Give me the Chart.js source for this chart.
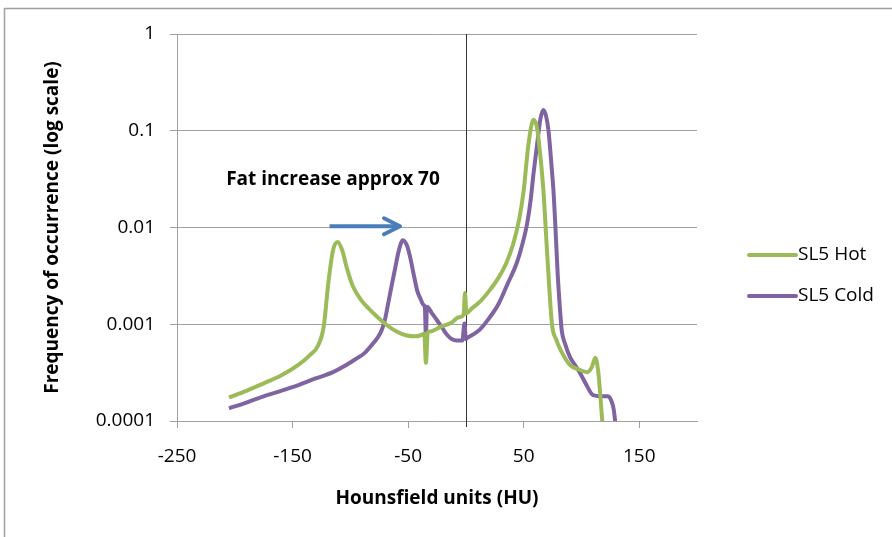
<!DOCTYPE html>
<html>
<head>
<meta charset="utf-8">
<script src="https://cdn.jsdelivr.net/npm/chart.js@4.4.0/dist/chart.umd.min.js"></script>
<style>
  body { margin: 0; background: #fff; }
  canvas { display: block; }
</style>
</head>
<body>
<canvas id="myChart" width="892" height="537"></canvas>
<script>
// SL5 Hot
var hotX = [-205, -190, -175, -160, -145, -135, -128, -123, -119, -115, -111, -107, -103, -98, -91, -84, -77, -68, -60, -52, -44, -39, -36, -34.6, -33, -31, -22, -13, -6, -2, -0.8, 0.5, 5, 12, 20, 28, 35, 41, 46, 50, 54, 58.5, 61, 63, 67, 70.5, 74.5, 78, 82, 90, 98, 105, 109, 112, 114.7, 117.5, 119.5];
var hotY = [0.000175, 0.000205, 0.000245, 0.000295, 0.00038, 0.00048, 0.0006, 0.00095, 0.0027, 0.0058, 0.0071, 0.0058, 0.0038, 0.0025, 0.0018, 0.00145, 0.0012, 0.00097, 0.00084, 0.00077, 0.00075, 0.00077, 0.0008, 0.0004, 0.00082, 0.00084, 0.00094, 0.00103, 0.00118, 0.00125, 0.0021, 0.0013, 0.00145, 0.0017, 0.0022, 0.003, 0.0043, 0.0068, 0.012, 0.024, 0.07, 0.13, 0.115, 0.08, 0.025, 0.005, 0.001, 0.0007, 0.00054, 0.00038, 0.00034, 0.00032, 0.00036, 0.00045, 0.00031, 0.00012, 0.00006];

// SL5 Cold
var coldX = [-205, -190, -175, -160, -145, -130, -115, -105, -95, -88, -82, -77, -73, -70, -67, -64, -61, -58, -54.5, -51, -48, -45, -42, -39, -37, -35.5, -34.6, -33.7, -29, -25, -20, -16, -12, -8, -3, -1.2, 0, 1, 6, 12, 20, 28, 36, 44, 49, 53, 56, 58.5, 61.5, 64.3, 67, 69.5, 71.5, 74, 76, 78, 79.5, 81.5, 83, 86, 90, 95, 99, 104, 109, 113, 118, 123, 126, 128, 131];
var coldY = [0.000135, 0.000155, 0.00018, 0.000205, 0.000235, 0.000275, 0.00032, 0.00037, 0.00044, 0.0005, 0.0006, 0.00071, 0.00086, 0.00112, 0.0017, 0.0026, 0.0039, 0.0058, 0.0074, 0.0065, 0.0048, 0.0032, 0.0022, 0.0018, 0.0016, 0.0015, 0.00074, 0.00152, 0.00128, 0.0011, 0.0009, 0.00077, 0.0007, 0.00068, 0.00068, 0.00102, 0.0007, 0.00072, 0.00078, 0.00088, 0.00115, 0.0016, 0.0026, 0.0043, 0.0068, 0.011, 0.019, 0.036, 0.07, 0.129, 0.164, 0.14, 0.1, 0.045, 0.022, 0.0075, 0.0032, 0.0014, 0.00085, 0.00062, 0.00046, 0.00037, 0.00031, 0.00024, 0.00019, 0.000182, 0.00018, 0.00018, 0.00016, 0.00013, 0.00006];

var seriesNames = ['SL5 Hot', 'SL5 Cold'];
var seriesColors = ['#9bbb59', '#8064a2'];

var xTicks = [-250, -150, -50, 50, 150];
var yTicks = [0.0001, 0.001, 0.01, 0.1, 1];

var noteText = 'Fat increase approx 70';
var notePos = [-115, 0.031];
var arrowFrom = [-118, 0.0103];
var arrowTo = [-57, 0.0103];

function toPoints(xs, ys) {
    return xs.map(function(x, i) { return { x: x, y: ys[i] }; });
}

var fontName = "'Open Sans', sans-serif";

var extras = {
    id: 'extras',
    beforeDraw: function(chart) {
        var ctx = chart.ctx;
        ctx.save();
        ctx.fillStyle = '#fff';
        ctx.fillRect(0, 0, chart.width, chart.height);
        ctx.strokeStyle = '#a0a0a0';
        ctx.lineWidth = 1.5;
        ctx.strokeRect(4.5, 8.5, 1000, 1000);
        ctx.restore();
    },
    beforeDatasetsDraw: function(chart) {
        var ctx = chart.ctx;
        var xs = chart.scales.x;
        var area = chart.chartArea;
        var x0 = Math.round(xs.getPixelForValue(0)) + 0.5;
        ctx.save();
        ctx.strokeStyle = '#333';
        ctx.lineWidth = 1;
        ctx.beginPath();
        ctx.moveTo(x0, area.top);
        ctx.lineTo(x0, area.bottom + 6);
        ctx.stroke();
        ctx.restore();
    },
    afterDatasetsDraw: function(chart) {
        var ctx = chart.ctx;
        var xs = chart.scales.x, ys = chart.scales.y;
        ctx.save();
        // annotation
        ctx.fillStyle = '#000';
        ctx.font = 'bold 19px ' + fontName;
        ctx.textAlign = 'center';
        ctx.textBaseline = 'middle';
        ctx.fillText(noteText, xs.getPixelForValue(notePos[0]), ys.getPixelForValue(notePos[1]));
        // arrow
        var ax1 = xs.getPixelForValue(arrowFrom[0]), ay = ys.getPixelForValue(arrowFrom[1]);
        var ax2 = xs.getPixelForValue(arrowTo[0]);
        ctx.strokeStyle = '#4a7ebb';
        ctx.lineWidth = 4;
        ctx.lineCap = 'butt';
        ctx.beginPath();
        ctx.moveTo(ax1, ay);
        ctx.lineTo(ax2 - 2, ay);
        ctx.stroke();
        ctx.lineCap = 'round';
        ctx.lineJoin = 'round';
        ctx.beginPath();
        ctx.moveTo(ax2 - 16, ay - 8);
        ctx.lineTo(ax2, ay);
        ctx.lineTo(ax2 - 16, ay + 8);
        ctx.stroke();
        // legend
        ctx.font = '19px ' + fontName;
        ctx.textAlign = 'left';
        ctx.textBaseline = 'middle';
        var legendY = [255, 296];
        chart.data.datasets.forEach(function(ds, i) {
            ctx.strokeStyle = ds.borderColor;
            ctx.lineWidth = 4;
            ctx.lineCap = 'round';
            ctx.beginPath();
            ctx.moveTo(749, legendY[i]);
            ctx.lineTo(796, legendY[i]);
            ctx.stroke();
            ctx.fillStyle = '#000';
            ctx.fillText(ds.label, 798, legendY[i]);
        });
        ctx.restore();
    }
};

var ctx = document.getElementById('myChart').getContext('2d');
var chart = new Chart(ctx, {
    type: 'line',
    data: {
        datasets: [{
            label: seriesNames[0],
            data: toPoints(hotX, hotY),
            borderColor: seriesColors[0],
            backgroundColor: seriesColors[0],
            borderWidth: 4,
            pointRadius: 0,
            cubicInterpolationMode: 'monotone',
            clip: 0
        }, {
            label: seriesNames[1],
            data: toPoints(coldX, coldY),
            borderColor: seriesColors[1],
            backgroundColor: seriesColors[1],
            borderWidth: 4,
            pointRadius: 0,
            cubicInterpolationMode: 'monotone',
            clip: 0
        }]
    },
    options: {
        responsive: false,
        animation: false,
        layout: { padding: { top: 34, right: 195, bottom: 0, left: 0 } },
        plugins: {
            legend: { display: false },
            tooltip: { enabled: false }
        },
        scales: {
            x: {
                type: 'linear',
                min: -250,
                max: 200,
                afterBuildTicks: function(scale) {
                    scale.ticks = xTicks.map(function(v) { return { value: v }; });
                },
                afterFit: function(scale) { scale.height = 116; },
                grid: {
                    drawOnChartArea: false,
                    drawTicks: true,
                    tickLength: 7,
                    color: '#a0a0a0'
                },
                border: { color: '#a0a0a0', width: 1 },
                ticks: {
                    padding: 17,
                    maxRotation: 0,
                    color: '#000',
                    font: { family: fontName, size: 19 }
                },
                title: {
                    display: true,
                    text: 'Hounsfield units (HU)',
                    color: '#000',
                    font: { family: fontName, size: 19, weight: 'bold' },
                    padding: { top: 0, bottom: 27 }
                }
            },
            y: {
                type: 'logarithmic',
                min: 0.0001,
                max: 1,
                afterBuildTicks: function(scale) {
                    scale.ticks = yTicks.map(function(v) { return { value: v }; });
                },
                afterFit: function(scale) { scale.width = 177; },
                grid: {
                    color: '#a0a0a0',
                    tickLength: 7
                },
                border: { color: '#a0a0a0', width: 1 },
                ticks: {
                    padding: 15,
                    color: '#000',
                    font: { family: fontName, size: 19 },
                    callback: function(v) { return String(v); }
                },
                title: {
                    display: true,
                    text: 'Frequency of occurrence (log scale)',
                    color: '#000',
                    font: { family: fontName, size: 19, weight: 'bold' },
                    padding: { top: 41, bottom: 0 }
                }
            }
        }
    },
    plugins: [extras]
});
</script>
</body>
</html>
